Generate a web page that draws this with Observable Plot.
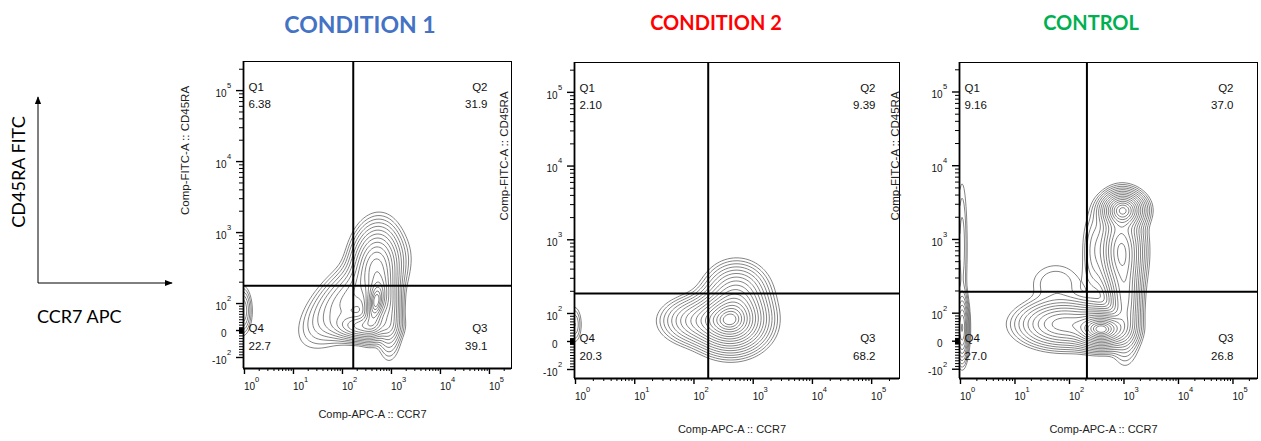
<!DOCTYPE html>
<html><head><meta charset="utf-8">
<script src="https://cdn.jsdelivr.net/npm/d3@7"></script>
<script src="https://cdn.jsdelivr.net/npm/@observablehq/plot@0.6"></script>
<style>
html,body{margin:0;padding:0;background:#fff;}
#root{position:relative;width:1261px;height:441px;overflow:hidden;font-family:"Liberation Sans",Arial,sans-serif;}
#root > svg{position:absolute;}
</style></head><body><div id="root"></div>
<script>
// ---------- data ----------
const titles = ["CONDITION 1", "CONDITION 2", "CONTROL"];
const titleColors = ["#4472C4", "#FF0000", "#00B050"];
const xTitle = "Comp-APC-A :: CCR7";
const yTitle = "Comp-FITC-A :: CD45RA";
const quadNames = ["Q1", "Q2", "Q3", "Q4"];
const q1 = [6.38, 2.10, 9.16];
const q2 = [31.9, 9.39, 37.0];
const q3 = [39.1, 68.2, 26.8];
const q4 = [22.7, 20.3, 27.0];
// quadrant gate thresholds (fluorescence units)
const gateCCR7 = [166, 174, 209];
const gateCD45RA = [178, 186, 195];
// axis ticks
const xMajor = [1, 10, 100, 1000, 10000, 100000];
const xMajorBase = ["10", "10", "10", "10", "10", "10"];
const xMajorExp = ["0", "1", "2", "3", "4", "5"];
const yMajor = [-100, 0, 100, 1000, 10000, 100000];
const yMajorBase = ["-10", "0", "10", "10", "10", "10"];
const yMajorExp = ["2", "", "2", "3", "4", "5"];
const minorMult = [2, 3, 4, 5, 6, 7, 8, 9];
const linMinor = [2, 3, 4, 5, 6, 7, 8, 9, 10, 20, 30, 40, 50, 60, 70, 80, 90];
// cell populations: [CCR7 position (log decades), CD45RA display position, spread x, spread y, correlation, relative weight]
const pops1 = [
  [2.68, 2.00, 0.13, 0.20, 0.3, 1.0],
  [2.68, 2.55, 0.24, 0.27, 0.1, 0.55],
  [2.40, 1.68, 0.30, 0.10, 0.0, 0.5],
  [2.20, 2.10, 0.45, 0.30, 0.65, 0.25],
  [2.95, 1.95, 0.13, 0.30, 0.0, 0.3],
  [-0.05, 1.90, 0.10, 0.17, 0.0, 0.12]
];
const pops2 = [
  [2.62, 1.90, 0.28, 0.19, 0.0, 1.0],
  [2.10, 1.90, 0.30, 0.15, 0.0, 0.25],
  [2.72, 2.25, 0.25, 0.20, 0.0, 0.3],
  [-0.02, 1.85, 0.07, 0.14, 0.0, 0.05]
];
const pops3 = [
  [2.98, 3.40, 0.19, 0.12, 0.0, 0.8],
  [2.95, 2.85, 0.19, 0.30, 0.0, 0.55],
  [3.02, 2.15, 0.14, 0.33, 0.0, 0.35],
  [2.60, 1.78, 0.24, 0.12, 0.0, 1.0],
  [1.90, 1.85, 0.40, 0.15, 0.0, 0.40],
  [1.75, 2.40, 0.30, 0.18, 0.0, 0.03],
  [2.45, 2.85, 0.12, 0.30, 0.0, 0.05],
  [0.03, 1.80, 0.06, 0.22, 0.0, 0.35],
  [0.03, 2.90, 0.06, 0.55, 0.0, 0.04]
];
const popsAll = [pops1, pops2, pops3];

// ---------- transforms ----------
const lg = Math.log10;
// biexponential-like display of the CD45RA axis (log above 100, linear around 0)
const biex = (v) => (v >= 100 ? Math.log10(v) : 1.62 + 0.38 * v / 100);
const fmt = d3.format(".3r");
const FONT = "'Liberation Sans', Arial, Helvetica, sans-serif";

const xMajorD = xMajor.map(lg);
const xMinorD = [];
for (const d of [1, 10, 100, 1000, 10000]) for (const m of minorMult) xMinorD.push(lg(d * m));
xMinorD.push(lg(200000));
const yMajorD = yMajor.map(biex);
const yMinorD = [];
for (const d of [100, 1000, 10000]) for (const m of minorMult) yMinorD.push(biex(d * m));
yMinorD.push(biex(200000));
for (const v of linMinor) { yMinorD.push(biex(v)); yMinorD.push(biex(-v)); }

function dens(pops, x, y) {
  let s = 0;
  for (const [cx, cy, sx, sy, r, w] of pops) {
    const a = (x - cx) / sx, b = (y - cy) / sy;
    const q = (a * a - 2 * r * a * b + b * b) / (1 - r * r);
    s += w * Math.exp(-0.5 * q);
  }
  return s;
}

// ---------- layout ----------
const layout = [
  {left: 175, top: 55, width: 345, height: 370, mL: 68, mR: 9, mT: 6, mB: 57, xd: [-0.02, 5.45], yd: [1.085, 5.41], yTitleDx: -58, xTitleDy: 49},
  {left: 495, top: 55, width: 410, height: 385, mL: 79, mR: 6, mT: 7, mB: 62, xd: [-0.017, 5.47], yd: [1.118, 5.405], yTitleDx: -70, xTitleDy: 54},
  {left: 885, top: 55, width: 376, height: 385, mL: 74, mR: 4, mT: 7, mB: 62, xd: [-0.018, 5.45], yd: [1.114, 5.40], yTitleDx: -64, xTitleDy: 54}
];

const root = document.getElementById("root");

// annotation layer (titles, schematic axes)
const ns = "http://www.w3.org/2000/svg";
const anno = document.createElementNS(ns, "svg");
anno.setAttribute("width", 1261); anno.setAttribute("height", 441);
anno.style.left = "0px"; anno.style.top = "0px";
anno.innerHTML = `
<defs><marker id="ah" viewBox="0 0 10 10" refX="9" refY="5" markerWidth="8" markerHeight="8" orient="auto"><path d="M0,1L10,5L0,9z" fill="#000"/></marker></defs>
<line x1="38" y1="283" x2="38" y2="97" stroke="#000" stroke-width="1" marker-end="url(#ah)"/>
<line x1="38" y1="283" x2="172" y2="283" stroke="#000" stroke-width="1" marker-end="url(#ah)"/>
<text transform="translate(25,172) rotate(-90)" text-anchor="middle" font-family="Lato, 'Open Sans', sans-serif" font-size="18" fill="#000">CD45RA FITC</text>
<text x="37" y="323" font-family="Lato, 'Open Sans', sans-serif" font-size="18" fill="#000">CCR7 APC</text>
<text x="360" y="33" text-anchor="middle" font-family="Lato, 'Open Sans', sans-serif" font-weight="bold" font-size="23" fill="${titleColors[0]}">${titles[0]}</text>
<text x="716" y="30" text-anchor="middle" font-family="Lato, 'Open Sans', sans-serif" font-weight="bold" font-size="20" fill="${titleColors[1]}">${titles[1]}</text>
<text x="1091" y="30" text-anchor="middle" font-family="Lato, 'Open Sans', sans-serif" font-weight="bold" font-size="20" fill="${titleColors[2]}">${titles[2]}</text>`;
root.appendChild(anno);

// contour levels: evenly spaced "radii" from the outer edge to the core
const levels = d3.range(17).map((k) => Math.exp(-0.5 * Math.pow(3.0 - k * (2.65 / 16), 2)));

layout.forEach((L, i) => {
  const pops = popsAll[i];
  let fmax = 0;
  for (let a = 0; a <= 220; a++) for (let b = 0; b <= 220; b++) {
    const x = L.xd[0] + (L.xd[1] - L.xd[0]) * a / 220;
    const y = L.yd[0] + (L.yd[1] - L.yd[0]) * b / 220;
    fmax = Math.max(fmax, dens(pops, x, y));
  }
  const thresholds = levels.map((l) => l * fmax);
  const gx = lg(gateCCR7[i]);
  const gy = biex(gateCD45RA[i]);
  const t = (extra) => ({fontFamily: FONT, fill: "#111", ...extra});
  const chart = Plot.plot({
    width: L.width, height: L.height,
    marginLeft: L.mL, marginRight: L.mR, marginTop: L.mT, marginBottom: L.mB,
    x: {domain: L.xd, axis: null},
    y: {domain: L.yd, axis: null},
    style: {background: "transparent", overflow: "visible", fontFamily: FONT},
    marks: [
      Plot.contour({value: (x, y) => dens(pops, x, y), x1: L.xd[0], x2: L.xd[1], y1: L.yd[0], y2: L.yd[1],
        thresholds, fill: "none", stroke: "#6e6e6e", strokeWidth: 0.85, pixelSize: 1}),
      Plot.frame({stroke: "#000", strokeWidth: 1}),
      Plot.ruleY([L.yd[0]], {stroke: "#000", strokeWidth: 1.8}),
      Plot.ruleX([L.xd[0]], {stroke: "#000", strokeWidth: 1.8}),
      Plot.ruleX([gx], {stroke: "#000", strokeWidth: 2}),
      Plot.ruleY([gy], {stroke: "#000", strokeWidth: 2}),
      // axis ticks
      Plot.axisX(xMajorD, {anchor: "bottom", tickSize: 6, tickFormat: () => "", label: null, stroke: "#000", strokeWidth: 1.4}),
      Plot.axisX(xMinorD, {anchor: "bottom", tickSize: 3, tickFormat: () => "", label: null, stroke: "#000"}),
      Plot.axisY(yMajorD, {anchor: "left", tickSize: 7, tickFormat: () => "", label: null, stroke: "#000", strokeWidth: 1.4}),
      Plot.axisY(yMinorD, {anchor: "left", tickSize: 4, tickFormat: () => "", label: null, stroke: "#000"}),
      // x tick labels
      Plot.text(xMajorD, t({x: (d) => d, frameAnchor: "bottom", dy: 21, dx: 5, text: (d, j) => xMajorBase[j], fontSize: 10})),
      Plot.text(xMajorD, t({x: (d) => d, frameAnchor: "bottom", dy: 13, dx: 12.5, text: (d, j) => xMajorExp[j], fontSize: 7.5})),
      // y tick labels
      Plot.text(yMajorD, t({y: (d) => d, frameAnchor: "left", dx: -17, dy: 3, textAnchor: "end", text: (d, j) => yMajorBase[j], fontSize: 10})),
      Plot.text(yMajorD, t({y: (d) => d, frameAnchor: "left", dx: -16.5, dy: -5, textAnchor: "start", text: (d, j) => yMajorExp[j], fontSize: 7.5})),
      // quadrant labels
      Plot.text([quadNames[0]], t({frameAnchor: "top-left", dx: 5, dy: 21, textAnchor: "start", text: (d) => d, fontSize: 11.5})),
      Plot.text([fmt(q1[i])], t({frameAnchor: "top-left", dx: 5, dy: 38, textAnchor: "start", text: (d) => d, fontSize: 11.5})),
      Plot.text([quadNames[1]], t({frameAnchor: "top-right", dx: -24, dy: 21, textAnchor: "end", text: (d) => d, fontSize: 11.5})),
      Plot.text([fmt(q2[i])], t({frameAnchor: "top-right", dx: -24, dy: 38, textAnchor: "end", text: (d) => d, fontSize: 11.5})),
      Plot.text([quadNames[2]], t({frameAnchor: "bottom-right", dx: -24, dy: -37, textAnchor: "end", text: (d) => d, fontSize: 11.5})),
      Plot.text([fmt(q3[i])], t({frameAnchor: "bottom-right", dx: -24, dy: -19, textAnchor: "end", text: (d) => d, fontSize: 11.5})),
      Plot.text([quadNames[3]], t({frameAnchor: "bottom-left", dx: 5, dy: -37, textAnchor: "start", text: (d) => d, fontSize: 11.5})),
      Plot.text([fmt(q4[i])], t({frameAnchor: "bottom-left", dx: 5, dy: -19, textAnchor: "start", text: (d) => d, fontSize: 11.5})),
      // axis titles
      Plot.text([xTitle], t({frameAnchor: "bottom", dy: L.xTitleDy, dx: -5, text: (d) => d, fontSize: 11, fill: "#222"})),
      Plot.text([yTitle], t({frameAnchor: "left", dx: L.yTitleDx, rotate: -90, text: (d) => d, fontSize: 11.5, fill: "#222"}))
    ]
  });
  chart.style.left = L.left + "px";
  chart.style.top = L.top + "px";
  root.appendChild(chart);
});
</script>
</body></html>
